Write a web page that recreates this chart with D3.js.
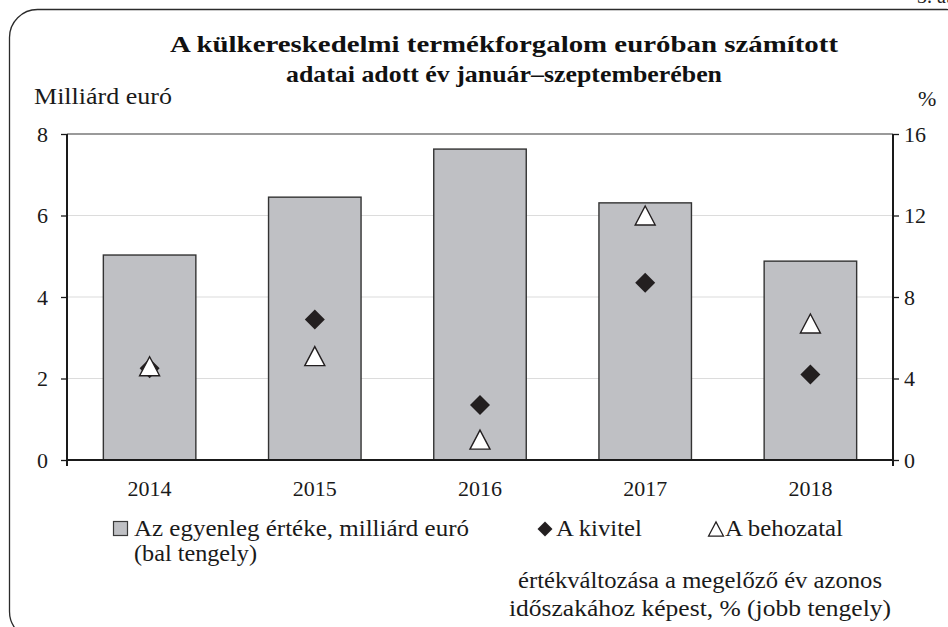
<!DOCTYPE html>
<html><head><meta charset="utf-8">
<script src="https://cdn.jsdelivr.net/npm/d3@7/dist/d3.min.js"></script>
<style>body{margin:0;background:#fff}svg{display:block}</style>
</head><body>
<script>
// ---- data ----
const years = ["2014", "2015", "2016", "2017", "2018"];
const balance = [5.03, 6.45, 7.63, 6.31, 4.88];      // milliárd euró (bal tengely)
const exportChange = [4.5, 6.9, 2.7, 8.7, 4.2];      // % (jobb tengely)
const importChange = [4.6, 5.1, 1.0, 12.0, 6.7];     // % (jobb tengely)
const leftTicks = [0, 2, 4, 6, 8];
const rightTicks = [0, 4, 8, 12, 16];
const titleLines = ["A külkereskedelmi termékforgalom euróban számított", "adatai adott év január–szeptemberében"];
const leftUnit = "Milliárd euró";
const rightUnit = "%";
const legendBar = ["Az egyenleg értéke, milliárd euró", "(bal tengely)"];
const legendExport = "A kivitel";
const legendImport = "A behozatal";
const legendNote = ["értékváltozása a megelőző év azonos", "időszakához képest, % (jobb tengely)"];
const figLabel = "3. ábra";

const W = 948, H = 627;
const FONT = "'Liberation Serif', 'Times New Roman', serif";
const svg = d3.select("body").append("svg").attr("width", W).attr("height", H)
  .style("font-family", FONT);

const L = 67, R = 893, T = 134, B = 460;
const x = d3.scaleBand().domain(years).range([L, R]).paddingInner(0.44).paddingOuter(0.22);
const yL = d3.scaleLinear().domain([0, 8]).range([B, T]);
const yR = d3.scaleLinear().domain([0, 16]).range([B, T]);

// frame
svg.append("rect").attr("x", 9.5).attr("y", 9.5).attr("width", 965).attr("height", 630)
  .attr("rx", 28).attr("fill", "none").attr("stroke", "#2b2b2b").attr("stroke-width", 1.3);
svg.append("text").attr("x", 917).attr("y", 3).attr("font-size", 20).attr("fill", "#222").text(figLabel);

function fitWidth(sel, w) {
  sel.attr("textLength", w).attr("lengthAdjust", "spacingAndGlyphs");
}
function stretch(sel, f) {
  sel.each(function () {
    const n = this.getComputedTextLength();
    d3.select(this).attr("textLength", n * f).attr("lengthAdjust", "spacingAndGlyphs");
  });
}

// grid
svg.append("g").selectAll("line").data(leftTicks.filter(d => d > 0)).join("line")
  .attr("x1", L).attr("x2", R).attr("y1", d => yL(d)).attr("y2", d => yL(d))
  .attr("stroke", d => d === 8 ? "#9a9a9a" : "#dcdcdc")
  .attr("stroke-width", d => d === 8 ? 2 : 1.2);

// bars
svg.append("g").selectAll("rect").data(years).join("rect")
  .attr("x", d => x(d)).attr("width", x.bandwidth())
  .attr("y", (d, i) => yL(balance[i])).attr("height", (d, i) => yL(0) - yL(balance[i]))
  .attr("fill", "#bfc0c4").attr("stroke", "#333").attr("stroke-width", 1.4);

// axes
const gl = svg.append("g").attr("transform", `translate(${L},0)`)
  .call(d3.axisLeft(yL).tickValues(leftTicks).tickSize(6).tickSizeOuter(0).tickPadding(13).tickFormat(d3.format("d")));
const gr = svg.append("g").attr("transform", `translate(${R},0)`)
  .call(d3.axisRight(yR).tickValues(rightTicks).tickSize(6).tickSizeOuter(0).tickPadding(5).tickFormat(d3.format("d")));
const gb = svg.append("g").attr("transform", `translate(0,${B})`)
  .call(d3.axisBottom(x).tickSize(0).tickPadding(0));
[gl, gr, gb].forEach(g => {
  g.select(".domain").remove();
  g.selectAll("text").attr("font-family", FONT).attr("font-size", 22).attr("fill", "#1a1a1a");
  g.selectAll(".tick line").attr("stroke", "#1a1a1a").attr("stroke-width", 1.3);
});
gb.selectAll("text").attr("dy", null).attr("y", 36);
gl.selectAll("text").attr("dy", "0.34em");
gr.selectAll("text").attr("dy", "0.34em");

// axis lines
svg.append("line").attr("x1", L).attr("x2", L).attr("y1", yL(8)).attr("y2", yL(0) + 6)
  .attr("stroke", "#1a1a1a").attr("stroke-width", 2);
svg.append("line").attr("x1", R).attr("x2", R).attr("y1", yR(16)).attr("y2", yR(0) + 6)
  .attr("stroke", "#1a1a1a").attr("stroke-width", 2);
svg.append("line").attr("x1", L).attr("x2", R).attr("y1", yL(0)).attr("y2", yL(0))
  .attr("stroke", "#1a1a1a").attr("stroke-width", 2);

// markers
const diamond = d3.symbol().type(d3.symbolSquare).size(200);
const tri = (s) => { const h = s * 0.95; return `M0,${-h/2}L${s/2},${h/2}L${-s/2},${h/2}Z`; };
const cx = d => x(d) + x.bandwidth() / 2;
svg.append("g").selectAll("path").data(years).join("path")
  .attr("d", diamond())
  .attr("transform", (d, i) => `translate(${cx(d)},${yR(exportChange[i])}) rotate(45)`)
  .attr("fill", "#231f20");
svg.append("g").selectAll("path").data(years).join("path")
  .attr("d", tri(20))
  .attr("transform", (d, i) => `translate(${cx(d)},${yR(importChange[i])})`)
  .attr("fill", "#fff").attr("stroke", "#231f20").attr("stroke-width", 1.4);

// titles
const title = svg.append("g").attr("font-weight", "bold").attr("font-size", 23).attr("fill", "#111");
const t1 = title.append("text").attr("x", 504).attr("y", 52).attr("text-anchor", "middle").text(titleLines[0]);
const t2 = title.append("text").attr("x", 504).attr("y", 82).attr("text-anchor", "middle").text(titleLines[1]);
fitWidth(t1, 668);
fitWidth(t2, 436);

const ul = svg.append("text").attr("x", 34).attr("y", 104).attr("font-size", 23).attr("fill", "#1a1a1a").text(leftUnit);
svg.append("text").attr("x", 918).attr("y", 106).attr("font-size", 22).attr("fill", "#1a1a1a").text(rightUnit);

// legend
const lg = svg.append("g").attr("font-size", 23).attr("fill", "#1a1a1a");
lg.append("rect").attr("x", 113.5).attr("y", 521.5).attr("width", 14).attr("height", 14)
  .attr("fill", "#bfc0c4").attr("stroke", "#3a3a3a").attr("stroke-width", 1.2);
const lb = lg.selectAll("text.lb").data(legendBar).join("text").attr("class", "lb")
  .attr("x", 134).attr("y", (d, i) => 536 + i * 25).text(d => d);
lg.append("path").attr("d", d3.symbol().type(d3.symbolSquare).size(112)())
  .attr("transform", "translate(545,529) rotate(45)").attr("fill", "#231f20");
const le = lg.append("text").attr("x", 556).attr("y", 536).text(legendExport);
lg.append("path").attr("d", tri(15)).attr("transform", "translate(716,529)")
  .attr("fill", "#fff").attr("stroke", "#231f20").attr("stroke-width", 1.2);
const li = lg.append("text").attr("x", 725).attr("y", 536).text(legendImport);
const ln = lg.selectAll("text.ln").data(legendNote).join("text").attr("class", "ln")
  .attr("x", 700).attr("y", (d, i) => 588 + i * 28).attr("text-anchor", "middle").text(d => d);

// widen to mimic reference face
fitWidth(ul, 138);
fitWidth(lb.filter((d, i) => i === 0), 335);
fitWidth(lb.filter((d, i) => i === 1), 123);
fitWidth(le, 86);
fitWidth(li, 118);
fitWidth(ln.filter((d, i) => i === 0), 364);
fitWidth(ln.filter((d, i) => i === 1), 382);
</script>
</body></html>
